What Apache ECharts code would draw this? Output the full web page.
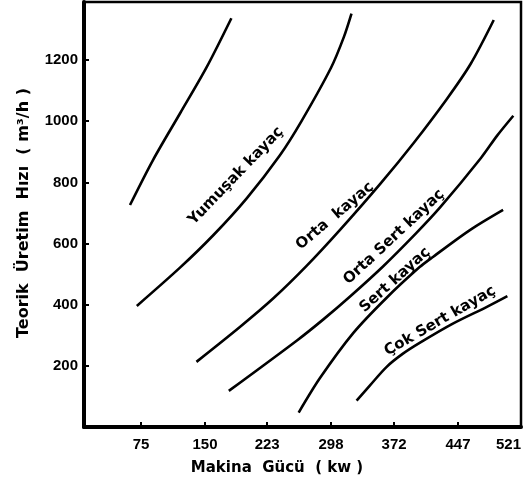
<!DOCTYPE html>
<html>
<head>
<meta charset="utf-8">
<script src="https://cdn.jsdelivr.net/npm/echarts@6/dist/echarts.min.js"></script>
<style>
html, body { margin: 0; padding: 0; background: #fff; }
#chart { width: 528px; height: 490px; }
</style>
</head>
<body>
<div id="chart"></div>
<script>
// tick labels (kW and m3/h)
var xTicks = [75, 150, 223, 298, 372, 447, 521];
var yTicks = [200, 400, 600, 800, 1000, 1200];

// curves: [power kW, output m3/h]
var curveTop = [[62, 726], [89, 873], [121, 1027], [152, 1177], [181, 1337]];
var yumusak = [[70, 396], [121, 522], [160, 628], [199, 748], [238, 889], [263, 999], [298, 1175], [313, 1275], [322, 1352]];
var orta = [[140, 213], [191, 327], [230, 420], [269, 526], [308, 643], [356, 796], [395, 929], [434, 1073], [462, 1188], [489, 1331]];
var ortaSert = [[178, 118], [258, 283], [289, 352], [320, 426], [359, 525], [398, 634], [426, 718], [474, 880], [493, 953], [512, 1018]];
var sert = [[260, 47], [285, 160], [324, 307], [363, 422], [402, 523], [418, 557], [461, 644], [500, 710]];
var cokSert = [[328, 86], [344, 137], [363, 196], [382, 239], [402, 275], [441, 338], [481, 393], [505, 428]];

var chart = echarts.init(document.getElementById('chart'));

function curve(data) {
	return {
		type: 'line',
		data: data,
		smooth: 0.3,
		showSymbol: false,
		lineStyle: { color: '#000', width: 2.6 }
	};
}

var labelFont = 'bold 15px "DejaVu Sans"';
function curveLabel(text, x, y, deg) {
	return {
		type: 'text',
		x: x,
		y: y,
		rotation: deg * Math.PI / 180,
		style: { text: text, font: labelFont, fill: '#000', align: 'center', verticalAlign: 'middle' }
	};
}

var option = {
	animation: false,
	backgroundColor: '#fff',
	grid: {
		left: 84, right: 7, top: 2, bottom: 63,
		show: true, borderColor: '#000', borderWidth: 2.5
	},
	xAxis: {
		type: 'value',
		min: 8,
		max: 521,
		axisLine: { lineStyle: { color: '#000', width: 4 } },
		axisTick: { inside: true, length: 5, customValues: xTicks, lineStyle: { color: '#000', width: 2 } },
		axisLabel: {
			customValues: xTicks, color: '#000', margin: 10,
			fontFamily: 'Liberation Sans', fontWeight: 'bold', fontSize: 15,
			alignMaxLabel: 'right'
		},
		splitLine: { show: false }
	},
	yAxis: {
		type: 'value',
		min: 0,
		max: 1390,
		axisLine: { show: true, lineStyle: { color: '#000', width: 4 } },
		axisTick: { inside: true, length: 5, customValues: yTicks, lineStyle: { color: '#000', width: 2 } },
		axisLabel: {
			customValues: yTicks, color: '#000', margin: 6,
			fontFamily: 'Liberation Sans', fontWeight: 'bold', fontSize: 15,
			formatter: function (v) { return String(v); }
		},
		splitLine: { show: false }
	},
	series: [curve(curveTop), curve(yumusak), curve(orta), curve(ortaSert), curve(sert), curve(cokSert)],
	graphic: [
		curveLabel('Yumuşak kayaç', 236, 176, 46),
		curveLabel('Orta  kayaç', 335, 216, 40),
		curveLabel('Orta Sert kayaç', 394, 237, 43),
		curveLabel('Sert kayaç', 395, 280, 42),
		curveLabel('Çok Sert kayaç', 440, 321, 30),
		{
			type: 'text', x: 277, y: 468,
			style: { text: 'Makina  Gücü  ( kw )', font: 'bold 15px "DejaVu Sans"', fill: '#000', align: 'center', verticalAlign: 'middle' }
		},
		{
			type: 'text', x: 24, y: 213, rotation: Math.PI / 2,
			style: { text: 'Teorik  Üretim  Hızı  ( m³/h )', font: 'bold 16px "DejaVu Sans"', fill: '#000', align: 'center', verticalAlign: 'middle' }
		}
	]
};
chart.setOption(option);
</script>
</body>
</html>
